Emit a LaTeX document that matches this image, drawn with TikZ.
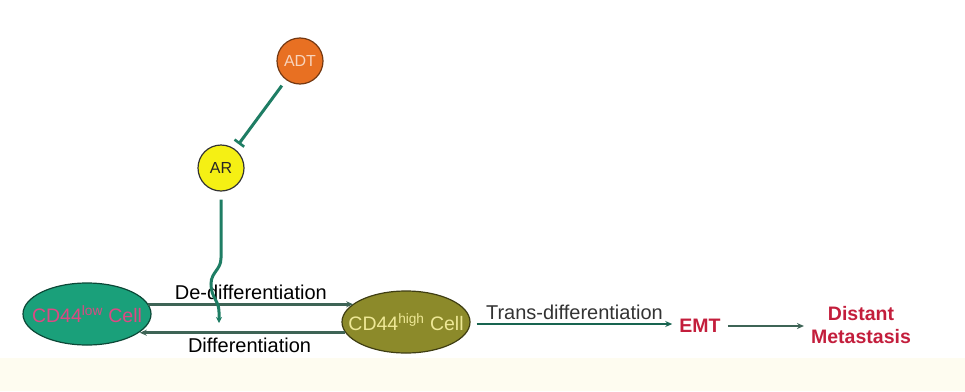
\documentclass[tikz,border=0pt]{standalone}
\usepackage{fontspec}
\setmainfont{Liberation Sans}
\usetikzlibrary{positioning,calc,arrows,arrows.meta,shapes.geometric}
\definecolor{cellteal}{RGB}{26,160,122}
\definecolor{cellolive}{RGB}{140,138,42}
\definecolor{adtorange}{RGB}{232,112,34}
\definecolor{aryellow}{RGB}{245,240,20}
\definecolor{linkteal}{RGB}{30,125,100}
\definecolor{linkgrey}{RGB}{62,100,86}
\definecolor{metared}{RGB}{195,30,60}
\definecolor{creamband}{RGB}{254,252,240}
\definecolor{lowtext}{RGB}{222,72,132}
\definecolor{hightext}{RGB}{238,232,150}
\tikzset{font=\fontsize{20}{24}\selectfont}

\begin{document}
\begin{tikzpicture}[x=1pt,y=-1pt]
	\useasboundingbox (0,0) rectangle (965,391);
	\fill[creamband] (0,358) rectangle (965,391);
	\begin{scope}
		\tikzstyle{every node}=[align=center, inner sep=1pt]
		\tikzstyle{cell}=[ellipse, draw, line width=1.2pt, inner sep=0pt, minimum width=128pt, minimum height=62pt, font=\fontsize{19.5}{22}\selectfont]
		\tikzstyle{factor}=[circle, draw, line width=1.2pt, inner sep=0pt, minimum size=46pt, font=\fontsize{16}{18}\selectfont]
		\tikzstyle{arr}=[draw=linkgrey, line width=2.6pt, -{Stealth[length=7pt,width=6pt]}]
		\tikzstyle{outcome}=[text=metared, font=\fontsize{19.5}{23}\selectfont\bfseries]

		\node[factor, fill=adtorange, draw=adtorange!50!black, text=adtorange!30!white] (adt) at (300, 61) {ADT};
		\node[factor, fill=aryellow, draw=black!80, text=black!85] (ar) at (221, 168) {AR};
		\node[cell, fill=cellteal, draw=cellteal!45!black, text=lowtext] (lowcell) at (87, 314) {\makebox[0pt]{CD44\textsuperscript{low} Cell}};
		\node[cell, fill=cellolive, draw=cellolive!45!black, text=hightext] (highcell) at (406, 322) {\makebox[0pt]{CD44\textsuperscript{high} Cell}};
		\node[outcome] (emt) at (700, 326) {EMT};
		\node[outcome] (meta) at (861, 325) {Distant\\Metastasis};
		\coordinate (arhit) at (219, 323);

		\draw[linkteal, line width=3pt, -{Bar[width=12pt,line width=2.6pt]}, shorten <=7pt, shorten >=6pt] (adt) -- (ar);
		\draw[arr] (lowcell.9) -- node[above=2pt] {De-differentiation} (highcell.161 |- lowcell.9);
		\draw[arr] (highcell.190) -- node[below=3pt, xshift=7pt] {Differentiation} (lowcell.341 |- highcell.190);
		\draw[linkteal, line width=3pt, -{Stealth[length=6pt,width=6pt]}, shorten <=8pt] (ar.south) -- (221, 258) .. controls (221, 270) and (211, 272) .. (211, 284) .. controls (211, 298) and (219, 300) .. (219, 312) -- (arhit);
		\draw[arr, draw=linkteal!80!black, shorten <=6pt, shorten >=6pt] (highcell.east |- 0,324) -- node[above=2pt, text=black!80] {Trans-differentiation} (emt.west |- 0,324);
		\draw[arr, shorten <=6pt, shorten >=6pt] (emt.east) -- (meta.west |- emt.east);

	\end{scope}
\end{tikzpicture}
\end{document}
